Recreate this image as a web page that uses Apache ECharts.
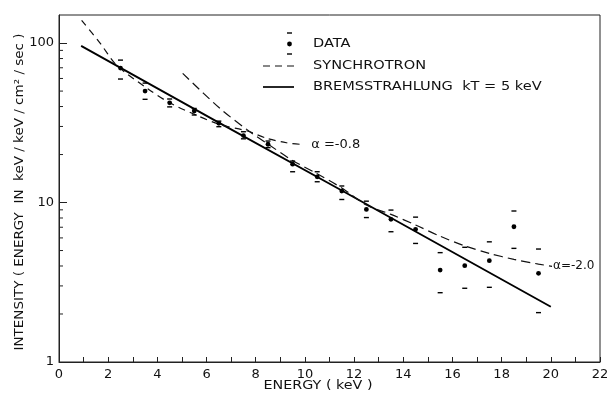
<!DOCTYPE html>
<html>
<head>
<meta charset="utf-8">
<script src="https://cdn.jsdelivr.net/npm/echarts@6/dist/echarts.min.js"></script>
<style>
html,body{margin:0;padding:0;background:#fff;}
#chart{width:609px;height:394px;}
</style>
</head>
<body>
<div id="chart"></div>
<script>
// ---- data ----
const energies  = [2.5, 3.5, 4.5, 5.5, 6.5, 7.5, 8.5, 9.5, 10.5, 11.5, 12.5, 13.5, 14.5, 15.5, 16.5, 17.5, 18.5, 19.5];
const intensity = [69.7, 50.0, 42.2, 37.5, 31.4, 26.3, 23.2, 17.4, 14.5, 11.8, 9.06, 7.85, 6.79, 3.77, 4.02, 4.32, 7.05, 3.60];
const errUpper  = [78.2, 56.1, 44.6, 38.9, 32.4, 27.8, 24.3, 18.2, 15.6, 12.7, 10.2, 8.97, 8.10, 4.85, 5.24, 5.67, 8.85, 5.11];
const errLower  = [59.5, 44.4, 39.8, 35.4, 29.9, 25.1, 22.1, 15.6, 13.5, 10.45, 8.05, 6.56, 5.54, 2.72, 2.90, 2.94, 5.16, 2.04];

const bremsE = [0.9, 6.5, 11.5, 20.0];
const bremsI = [96, 31.7, 11.9, 2.22];

const synchLowE = [0.92, 1.67, 2.34, 3.59, 4.5, 5.5, 6.5, 7.5, 7.76, 8.44, 9.25, 9.93];
const synchLowI = [139, 100, 72.8, 52, 42.2, 35.8, 31.0, 28.5, 27.8, 25.3, 23.7, 23.1];

const synchHighE = [5.03, 6.54, 7.76, 8.44, 9.46, 10.48, 11.55, 12.5, 13.5, 14.5, 15.5, 16.5, 17.5, 18.5, 19.5, 20.05];
const synchHighI = [64.6, 39.0, 27.8, 23.6, 18.5, 15.2, 12.2, 9.64, 8.43, 7.23, 6.15, 5.35, 4.8, 4.4, 4.11, 3.98];

const yMinorTicks = [2, 3, 4, 5, 6, 7, 8, 9, 20, 30, 40, 50, 60, 70, 80, 90];
const yMajorLabels = [1, 10, 100];
const xLabelStep = 2;

const labelLow = 'α =-0.8';
const labelHigh = 'α=-2.0';
const xTitle = 'ENERGY ( keV )';
const yTitle = 'INTENSITY ( ENERGY  IN  keV / keV / cm² / sec )';
const legendNames = ['DATA', 'SYNCHROTRON', 'BREMSSTRAHLUNG  kT = 5 keV'];

// ---- chart ----
const FONT = 'DejaVu Sans';
const zip = (a, b) => a.map((v, i) => [v, b[i]]);
const chart = echarts.init(document.getElementById('chart'), null, {renderer: 'canvas'});

const legendText = (txt, y) => ({type: 'text', x: 313, y: y, scaleX: 1.12,
  style: {text: txt, fill: '#111', font: '13px "DejaVu Sans"', verticalAlign: 'middle'}});

const option = {
  animation: false,
  backgroundColor: '#fff',
  grid: {left: 59, right: 9, top: 15, bottom: 32, show: true, borderColor: '#222', borderWidth: 1,
         containLabel: false, outerBoundsMode: 'none'},
  xAxis: {
    type: 'value', min: 0, max: 22, interval: 1,
    axisLine: {show: true, lineStyle: {color: '#222', width: 1}},
    axisTick: {show: true, inside: true, length: 5, lineStyle: {color: '#222'}},
    splitLine: {show: false},
    axisLabel: {color: '#111', fontFamily: FONT, fontSize: 13, margin: 6,
      formatter: v => (Math.round(v) % xLabelStep === 0 ? String(Math.round(v)) : '')}
  },
  yAxis: {
    type: 'log', logBase: 10, min: 1, max: 150,
    axisLine: {show: true, lineStyle: {color: '#222', width: 1}},
    axisTick: {show: true, inside: true, length: 8, lineStyle: {color: '#222'}},
    splitLine: {show: false},
    axisLabel: {color: '#111', fontFamily: FONT, fontSize: 13, margin: 5,
      formatter: v => { const r = Math.round(v); return yMajorLabels.indexOf(r) >= 0 && Math.abs(v - r) < 1e-6 * r + 1e-9 ? String(r) : ''; },
      showMaxLabel: false}
  },
  series: [
    {
      name: 'minorTicks', type: 'custom', silent: true, z: 5,
      data: yMinorTicks.map(v => [0, v]),
      renderItem: (params, api) => {
        const p = api.coord([api.value(0), api.value(1)]);
        return {type: 'line', shape: {x1: p[0], y1: p[1], x2: p[0] + 4, y2: p[1]},
                style: {stroke: '#222', lineWidth: 1}};
      }
    },
    {
      name: 'brems', type: 'line', data: zip(bremsE, bremsI), symbol: 'none', smooth: false,
      lineStyle: {color: '#000', width: 1.9, type: 'solid'}, z: 3
    },
    {
      name: 'synchLow', type: 'line', data: zip(synchLowE, synchLowI), symbol: 'none', smooth: 0.3,
      lineStyle: {color: '#111', width: 1.2, type: [7, 5]}, z: 3,
      endLabel: {show: true, formatter: labelLow, color: '#111', fontFamily: FONT, fontSize: 13, distance: 8}
    },
    {
      name: 'synchHigh', type: 'line', data: zip(synchHighE, synchHighI), symbol: 'none', smooth: 0.3,
      lineStyle: {color: '#111', width: 1.2, type: [9, 5]}, z: 3,
      endLabel: {show: true, formatter: labelHigh, color: '#111', fontFamily: FONT, fontSize: 12, distance: 1}
    },
    {
      name: 'data', type: 'custom', z: 4,
      data: energies.map((e, i) => [e, intensity[i], errUpper[i], errLower[i]]),
      renderItem: (params, api) => {
        const c = api.coord([api.value(0), api.value(1)]);
        const u = api.coord([api.value(0), api.value(2)]);
        const l = api.coord([api.value(0), api.value(3)]);
        return {type: 'group', children: [
          {type: 'circle', shape: {cx: c[0], cy: c[1], r: 2.4}, style: {fill: '#000'}},
          {type: 'line', shape: {x1: u[0] - 2.5, y1: u[1], x2: u[0] + 2.5, y2: u[1]}, style: {stroke: '#000', lineWidth: 1.4}},
          {type: 'line', shape: {x1: l[0] - 2.5, y1: l[1], x2: l[0] + 2.5, y2: l[1]}, style: {stroke: '#000', lineWidth: 1.4}}
        ]};
      }
    }
  ],
  graphic: [
    {type: 'line', shape: {x1: 287, y1: 33, x2: 292, y2: 33}, style: {stroke: '#000', lineWidth: 1.4}},
    {type: 'circle', shape: {cx: 289.5, cy: 44, r: 2.4}, style: {fill: '#000'}},
    {type: 'line', shape: {x1: 287, y1: 54, x2: 292, y2: 54}, style: {stroke: '#000', lineWidth: 1.4}},
    legendText(legendNames[0], 44),
    {type: 'line', shape: {x1: 263, y1: 66, x2: 294, y2: 66}, style: {stroke: '#111', lineWidth: 1.2, lineDash: [7, 5]}},
    legendText(legendNames[1], 66),
    {type: 'line', shape: {x1: 263, y1: 87, x2: 294, y2: 87}, style: {stroke: '#000', lineWidth: 1.7}},
    legendText(legendNames[2], 87),
    {type: 'text', x: 318, y: 386, scaleX: 1.1,
     style: {text: xTitle, fill: '#111', font: '13px "DejaVu Sans"', align: 'center', verticalAlign: 'middle'}},
    {type: 'text', x: 20, y: 192, rotation: Math.PI / 2, scaleX: 1.08,
     style: {text: yTitle, fill: '#111', font: '12.5px "DejaVu Sans"', align: 'center', verticalAlign: 'middle'}}
  ]
};
chart.setOption(option);
</script>
</body>
</html>
